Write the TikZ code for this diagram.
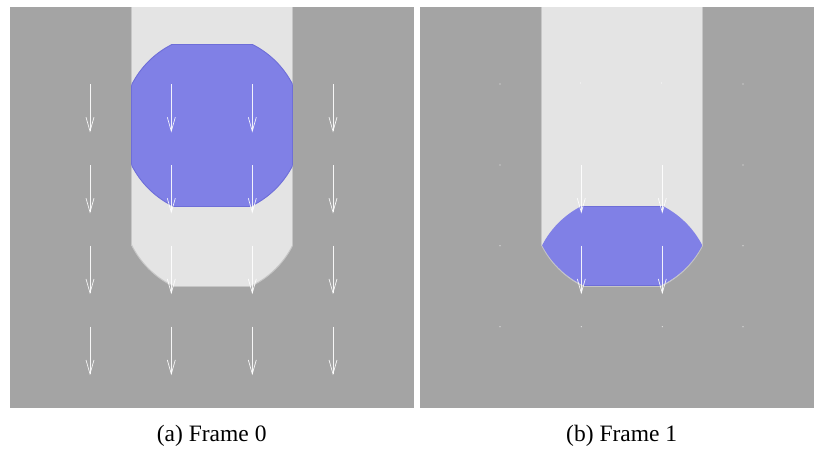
\documentclass[tikz,border=0pt]{standalone}
\usepackage{fontspec}
\setmainfont{Liberation Serif}
\usetikzlibrary{arrows.meta}
\definecolor{bg}{RGB}{164,164,164}
\definecolor{slot}{RGB}{228,228,228}
\definecolor{slotedge}{RGB}{198,198,198}
\definecolor{drop}{RGB}{128,128,230}
\definecolor{dropedge}{RGB}{110,110,216}
\tikzset{
  flow/.style={draw=white, draw opacity=0.9, line width=0.7pt, -{Straight Barb[length=14pt,width=8pt,line width=0.7pt]}},
  speck/.style={fill=white, fill opacity=0.8},
  edge/.style={draw=slotedge, line width=1pt},
  dedge/.style={draw=dropedge, line width=0.9pt},
  caption/.style={font=\fontsize{23.5}{28}\selectfont, inner sep=0pt}
}
\newcommand{\slotshape}{%
  \fill[slot] (131.7,7) rectangle (292.7,205);
  \begin{scope}
    \clip (131.7,205) rectangle (292.7,286);
    \fill[slot] (212.2,205) circle[radius=90];
  \end{scope}
  \draw[edge] (131.7,7) -- (131.7,245.5);
  \draw[edge] (292.7,7) -- (292.7,245.5);
  \begin{scope}
    \clip (131.7,205) rectangle (292.7,286.5);
    \draw[edge] (212.2,205) circle[radius=90];
  \end{scope}
  \begin{scope}
    \clip (212.2,205) circle[radius=90];
    \draw[edge] (131.7,286) -- (292.7,286);
  \end{scope}}
\begin{document}
\begin{tikzpicture}[x=1pt,y=-1pt]
\fill[white] (0,0) rectangle (814,450);
\useasboundingbox (0,0) rectangle (814,450);
% panels
\fill[bg] (10,7) rectangle (414,408);
\fill[bg] (420,7) rectangle (814,408);
% ---------- Frame 0 ----------
\slotshape
\begin{scope}
  \clip (131.7,44) rectangle (292.7,206);
  \fill[drop] (212.2,125) circle[radius=90];
  \draw[dedge] (212.2,125) circle[radius=90];
\end{scope}
\begin{scope}
  \clip (212.2,125) circle[radius=90];
  \draw[dedge] (131.7,44) rectangle (292.7,206);
\end{scope}
\foreach \x in {90,171.3,252.3,333}
  \foreach \y in {84,165,245.7,326.7}
    \draw[flow] (\x,\y) -- ++(0,48.5);
% ---------- Frame 1 ----------
\begin{scope}[xshift=410pt]
  \slotshape
  \begin{scope}
    \clip (131.7,206) rectangle (292.7,285.6);
    \clip (212.2,204.2) circle[radius=90];
    \clip (212.2,286.4) circle[radius=90];
    \fill[drop] (131.7,196) rectangle (292.7,296);
    \draw[draw=dropedge, line width=0.8pt] (131.7,206) -- (292.7,206);
    \draw[draw=dropedge, line width=1.2pt] (131.7,285.6) -- (292.7,285.6);
  \end{scope}
\end{scope}
\foreach \x in {581.3,662.3}
  \foreach \y in {165,245.7}
    \draw[flow] (\x,\y) -- ++(0,48.5);
\foreach \x/\y in {500/84,743/84,500/165,743/165,500/245.7,743/245.7,
                   500/326.7,581.3/326.7,662.3/326.7,743/326.7,580.5/83,661.5/83}
  \fill[speck] (\x,\y) circle[radius=0.6];
% captions
\node[caption] (capa) at (211.7,436) {(a) Frame 0};
\node[caption] (capb) at (621.7,436) {(b) Frame 1};
\end{tikzpicture}
\end{document}
